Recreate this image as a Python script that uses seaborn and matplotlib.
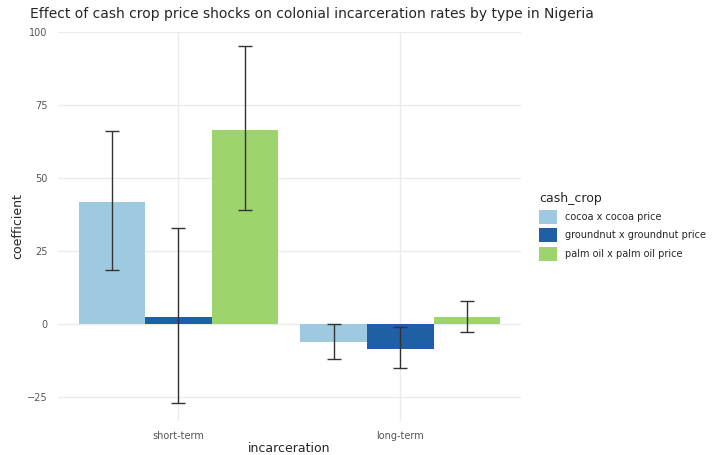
import numpy as np
import matplotlib
matplotlib.use("Agg")
import matplotlib.pyplot as plt
import seaborn as sns
import pandas as pd

incarceration = ["short-term", "long-term"]
cash_crop = ["cocoa x cocoa price", "groundnut x groundnut price", "palm oil x palm oil price"]
coef = [[42, 2.5, 66.5], [-6, -8.5, 2.5]]
lower = [[18.5, -27, 39], [-12, -15, -2.5]]
upper = [[66, 33, 95], [0, -1, 8]]
colors = ["#9ecae1", "#1f5fa6", "#9dd46e"]

rows = []
for i, inc in enumerate(incarceration):
    for j, cc in enumerate(cash_crop):
        rows.append(dict(incarceration=inc, cash_crop=cc, coefficient=coef[i][j],
                         lo=lower[i][j], hi=upper[i][j]))
df = pd.DataFrame(rows)

sns.set_theme(style="whitegrid")
plt.rcParams['font.family'] = ['DejaVu Sans']
fig = plt.figure(figsize=(7.19, 4.55), dpi=100)
ax = fig.add_axes([0.08, 0.075, 0.645, 0.855])
sns.barplot(data=df, x="incarceration", y="coefficient", hue="cash_crop",
            palette=colors, width=0.9, saturation=1, ax=ax, errorbar=None, linewidth=0)
for bars, cc in zip(ax.containers, cash_crop):
    sub = df[df.cash_crop == cc]
    for b, (_, r) in zip(bars, sub.iterrows()):
        x = b.get_x() + b.get_width() / 2
        ax.errorbar(x, r.coefficient, yerr=[[r.coefficient - r.lo], [r.hi - r.coefficient]],
                    fmt="none", ecolor="#333333", elinewidth=1, capsize=5)
ax.set_ylim(-33, 100)
ax.set_yticks([-25, 0, 25, 50, 75, 100])
ax.tick_params(labelsize=7, colors="#555555", pad=1)
for s in ax.spines.values():
    s.set_visible(False)
ax.grid(True, color="#ebebeb")
ax.set_xlabel("incarceration", fontsize=9, labelpad=1)
ax.set_ylabel("coefficient", fontsize=9, labelpad=2)
ax.set_title("Effect of cash crop price shocks on colonial incarceration rates by type in Nigeria",
             fontsize=10, loc="left", x=-0.06, pad=10)
leg = ax.legend(title="cash_crop", loc="center left", bbox_to_anchor=(1.02, 0.5),
                frameon=False, fontsize=7, title_fontsize=9, handlelength=1.8, handleheight=1.8)
leg._legend_box.align = "left"
fig.savefig("out.png", dpi=100)
